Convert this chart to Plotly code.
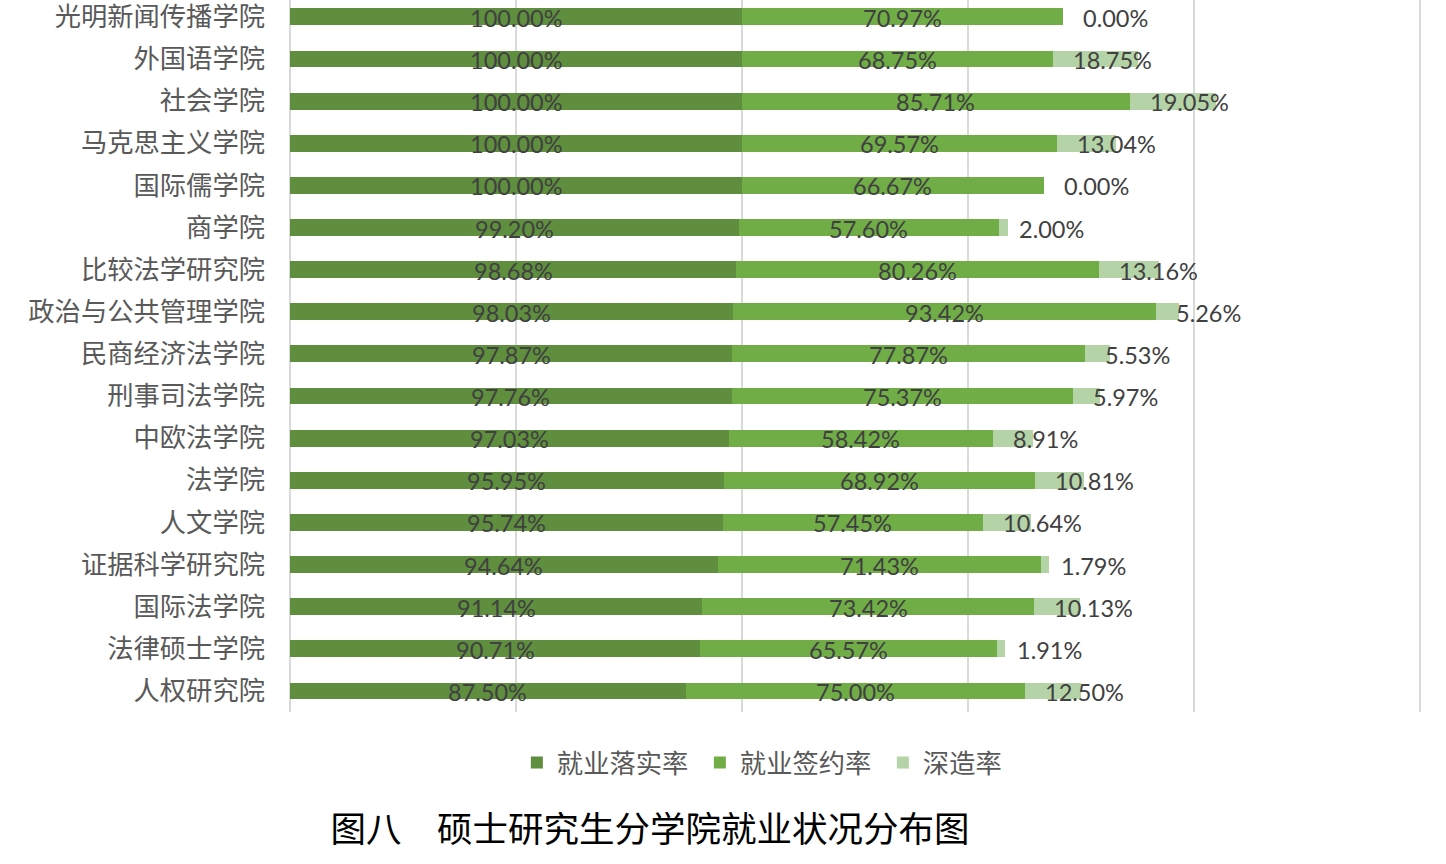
import plotly.graph_objects as go

# Data (top to bottom as shown in the chart)
colleges = ["光明新闻传播学院", "外国语学院", "社会学院", "马克思主义学院", "国际儒学院",
            "商学院", "比较法学研究院", "政治与公共管理学院", "民商经济法学院", "刑事司法学院",
            "中欧法学院", "法学院", "人文学院", "证据科学研究院", "国际法学院",
            "法律硕士学院", "人权研究院"]
luoshi = [100.00, 100.00, 100.00, 100.00, 100.00, 99.20, 98.68, 98.03, 97.87, 97.76,
          97.03, 95.95, 95.74, 94.64, 91.14, 90.71, 87.50]
qianyue = [70.97, 68.75, 85.71, 69.57, 66.67, 57.60, 80.26, 93.42, 77.87, 75.37,
           58.42, 68.92, 57.45, 71.43, 73.42, 65.57, 75.00]
shenzao = [0.00, 18.75, 19.05, 13.04, 0.00, 2.00, 13.16, 5.26, 5.53, 5.97,
           8.91, 10.81, 10.64, 1.79, 10.13, 1.91, 12.50]

series_names = ["就业落实率", "就业签约率", "深造率"]
colors = ["#5E8E3E", "#70AD47", "#B4D3A7"]
title_text = "图八　硕士研究生分学院就业状况分布图"

# plot bottom-to-top order
cats = colleges[::-1]
s1 = luoshi[::-1]
s2 = qianyue[::-1]
s3 = shenzao[::-1]

fig = go.Figure()
for name, vals, col in zip(series_names, [s1, s2, s3], colors):
    fig.add_trace(go.Bar(y=cats, x=vals, name=name, orientation="h",
                         marker=dict(color=col, line=dict(width=0)),
                         hoverinfo="x+name"))

lab_font = dict(family="Lato, Liberation Sans, sans-serif", size=23.5, color="#404040")
ann = []
for c, a, b, d in zip(cats, s1, s2, s3):
    ann.append(dict(x=a / 2, y=c, text=f"{a:.2f}%", showarrow=False,
                    xanchor="center", yanchor="middle", font=lab_font, yshift=-1))
    ann.append(dict(x=a + b / 2, y=c, text=f"{b:.2f}%", showarrow=False,
                    xanchor="center", yanchor="middle", font=lab_font, yshift=-1))
    ann.append(dict(x=a + b, y=c, text=f"{d:.2f}%", showarrow=False,
                    xanchor="left", yanchor="middle", xshift=18, font=lab_font, yshift=-1))

fig.update_layout(
    width=1446, height=864,
    margin=dict(l=290, r=23, t=0, b=152, pad=0),
    barmode="stack", bargap=0.6,
    plot_bgcolor="white", paper_bgcolor="white",
    showlegend=True,
    legend=dict(orientation="h", x=0.4425, xanchor="center", y=-0.0716, yanchor="middle",
                font=dict(family="Noto Sans CJK SC", size=26.3, color="#595959"),
                itemwidth=30, traceorder="normal", entrywidth=138),
    annotations=ann,
    title=dict(text=title_text, x=0.4495, xanchor="center", y=0.0394, yanchor="middle",
               font=dict(family="Noto Sans CJK SC", size=35.5, color="#000000")),
    xaxis=dict(range=[0, 250.6], tickvals=[0, 50, 100, 150, 200, 250], showgrid=True,
               gridcolor="#D9D9D9", gridwidth=2,
               showticklabels=False, zeroline=True, zerolinecolor="#D9D9D9", zerolinewidth=2,
               showline=False, fixedrange=True, automargin=False),
    yaxis=dict(categoryorder="array", categoryarray=cats, range=[-0.5, 16.40],
               showgrid=False, showline=False, ticks="", ticklabelstandoff=24,
               tickfont=dict(family="Noto Sans CJK SC", size=26.3, color="#595959"),
               fixedrange=True, automargin=False),
)

fig.write_html("out.html",
               config={"displayModeBar": False},
               post_script="document.documentElement.style.margin='0';"
                           "document.body.style.margin='0';"
                           "document.body.style.overflow='hidden';")
